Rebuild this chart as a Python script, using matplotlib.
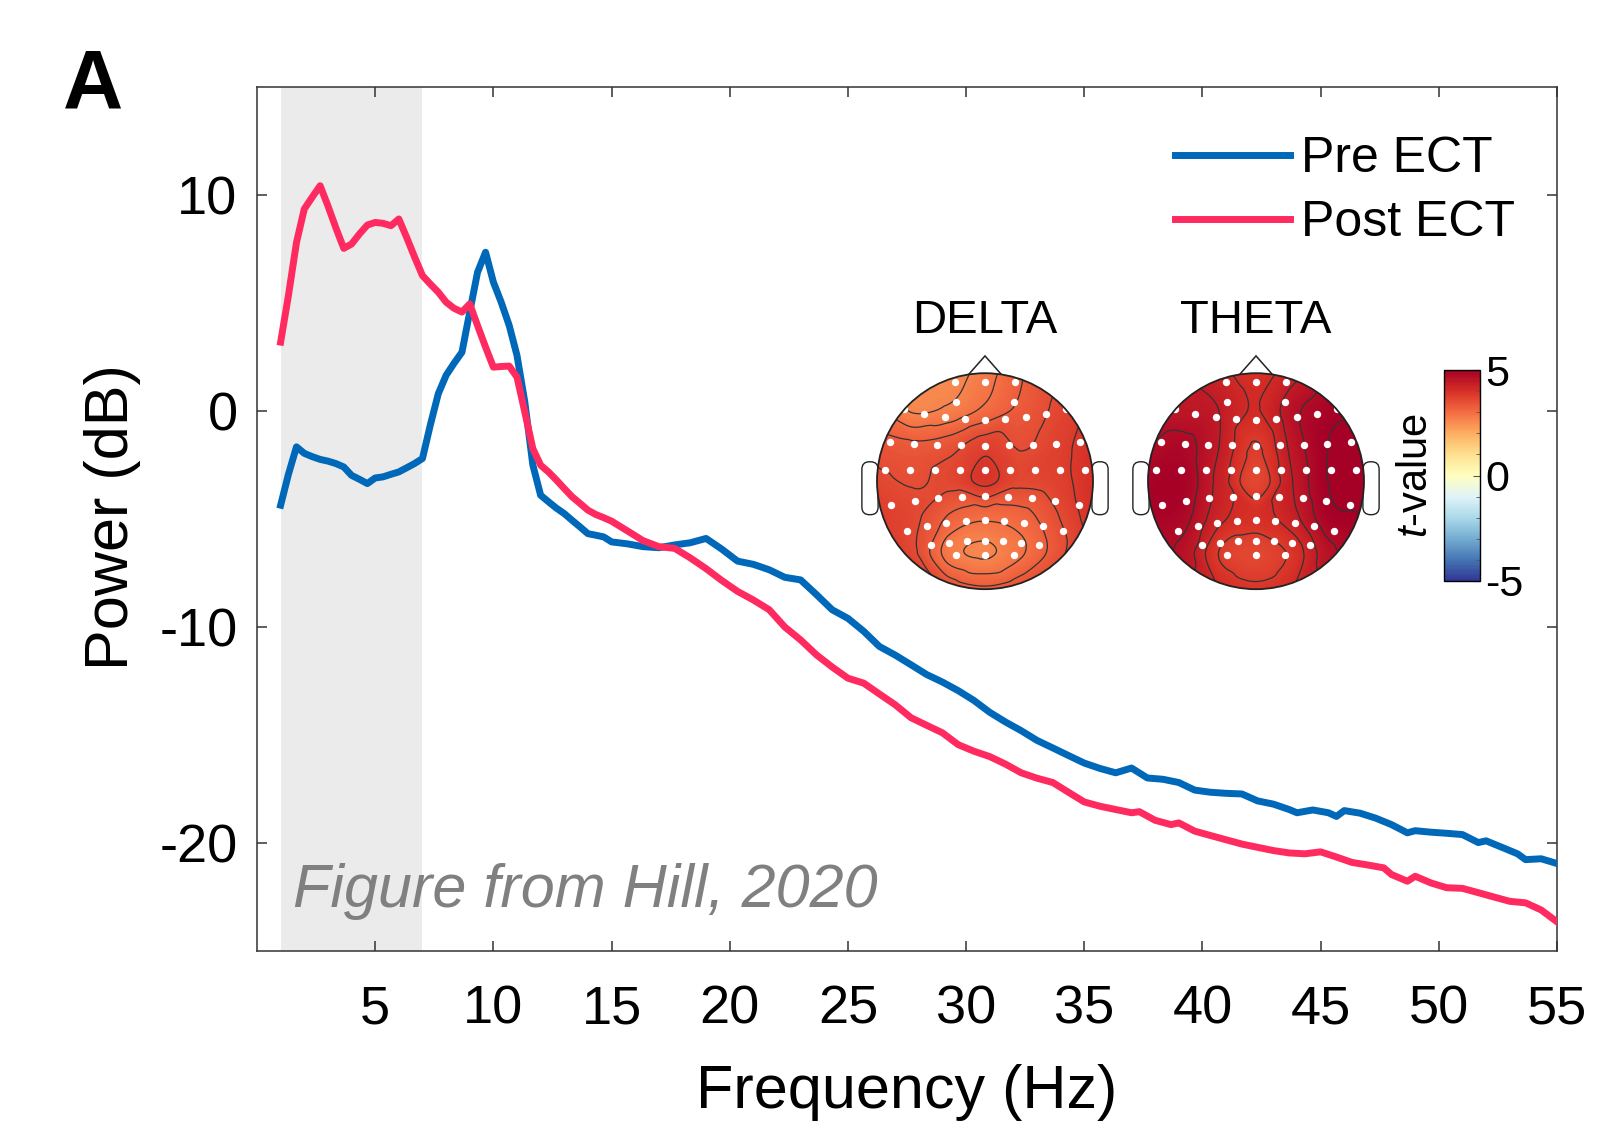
import numpy as np
import matplotlib.pyplot as plt
import matplotlib.tri as mtri
from matplotlib.patches import Circle, Polygon, FancyBboxPatch
from matplotlib.cm import ScalarMappable
from matplotlib.colors import Normalize
from matplotlib.ticker import MultipleLocator

plt.rcParams['font.family'] = ['Liberation Sans', 'DejaVu Sans']
plt.rcParams['axes.unicode_minus'] = False
plt.rcParams['mathtext.fontset'] = 'custom'
plt.rcParams['mathtext.it'] = 'Liberation Sans:italic'
plt.rcParams['mathtext.rm'] = 'Liberation Sans'

# power spectra (dB)
pre_freq = [1.0, 1.33, 1.67, 2.0, 2.33, 2.67, 3.0, 3.33, 3.67, 4.0, 4.33, 4.67, 5.0, 5.33,
            5.67, 6.0, 6.33, 6.67, 7.0, 7.33, 7.67, 8.0, 8.33, 8.67, 9.0, 9.33, 9.67, 10.0,
            10.33, 10.67, 11.0, 11.33, 11.67, 12.0, 12.33, 12.67, 13.0, 13.33, 13.67, 14.0,
            14.33, 14.67, 15.0, 15.67, 16.33, 17.0, 17.67, 18.33, 19.0, 19.67, 20.33, 21.0,
            21.67, 22.33, 23.0, 23.67, 24.33, 25.0, 25.67, 26.33, 27.0, 27.67, 28.33, 29.0,
            29.67, 30.33, 31.0, 31.67, 32.33, 33.0, 33.67, 34.33, 35.0, 35.67, 36.33, 37.0,
            37.67, 38.33, 39.0, 39.67, 40.33, 41.0, 41.67, 42.33, 43.0, 43.67, 44.0, 44.67,
            45.33, 45.67, 46.0, 46.67, 47.33, 48.0, 48.67, 49.0, 49.67, 50.33, 51.0, 51.67,
            52.0, 52.67, 53.33, 53.67, 54.33, 55.0]
pre_db = [-4.36, -2.93, -1.66, -1.96, -2.11, -2.24, -2.32, -2.43, -2.59, -2.98, -3.16, -3.36,
          -3.1, -3.05, -2.93, -2.82, -2.63, -2.43, -2.2, -0.66, 0.8, 1.65, 2.2, 2.72, 4.58,
          6.42, 7.35, 5.97, 5.04, 3.96, 2.57, 0.42, -2.5, -3.9, -4.2, -4.5, -4.75, -5.06,
          -5.37, -5.68, -5.75, -5.83, -6.06, -6.15, -6.28, -6.33, -6.2, -6.1, -5.9, -6.4,
          -6.95, -7.1, -7.35, -7.7, -7.82, -8.5, -9.2, -9.6, -10.2, -10.9, -11.3, -11.75,
          -12.2, -12.55, -12.95, -13.4, -13.95, -14.4, -14.8, -15.25, -15.6, -15.95, -16.3,
          -16.55, -16.75, -16.53, -16.99, -17.05, -17.2, -17.55, -17.65, -17.7, -17.73,
          -18.05, -18.2, -18.45, -18.6, -18.47, -18.6, -18.77, -18.5, -18.62, -18.85,
          -19.15, -19.53, -19.43, -19.5, -19.55, -19.61, -19.98, -19.9, -20.2, -20.5,
          -20.77, -20.73, -20.95]

post_freq = [1.0, 1.33, 1.67, 2.0, 2.33, 2.67, 3.0, 3.33, 3.67, 4.0, 4.33, 4.67, 5.0, 5.33,
             5.67, 6.0, 6.33, 6.67, 7.0, 7.33, 7.67, 8.0, 8.33, 8.67, 9.0, 9.33, 9.67, 10.0,
             10.33, 10.67, 11.0, 11.33, 11.67, 12.0, 12.33, 12.67, 13.0, 13.33, 13.67, 14.0,
             14.33, 14.67, 15.0, 15.67, 16.33, 17.0, 17.67, 18.33, 19.0, 19.67, 20.33, 21.0,
             21.67, 22.33, 23.0, 23.67, 24.33, 25.0, 25.67, 26.33, 27.0, 27.67, 28.33, 29.0,
             29.67, 30.33, 31.0, 31.67, 32.33, 33.0, 33.67, 34.33, 35.0, 35.67, 36.33, 37.0,
             37.33, 38.0, 38.67, 39.0, 39.67, 40.33, 41.0, 41.67, 42.33, 43.0, 43.67, 44.33,
             45.0, 45.67, 46.33, 47.0, 47.67, 48.0, 48.67, 49.0, 49.67, 50.33, 51.0, 51.67,
             52.33, 53.0, 53.67, 54.33, 55.0]
post_db = [3.19, 5.35, 7.8, 9.35, 9.89, 10.43, 9.5, 8.5, 7.53, 7.73, 8.19, 8.61, 8.73, 8.69,
           8.58, 8.89, 8.04, 7.12, 6.27, 5.88, 5.5, 5.04, 4.76, 4.58, 4.96, 3.96, 2.96, 2.03,
           2.06, 2.08, 1.57, -0.05, -1.74, -2.51, -2.82, -3.2, -3.59, -3.97, -4.28, -4.59,
           -4.79, -4.94, -5.1, -5.55, -6.0, -6.28, -6.36, -6.8, -7.3, -7.85, -8.35, -8.75,
           -9.2, -10.0, -10.6, -11.29, -11.85, -12.37, -12.6, -13.1, -13.6, -14.2, -14.55,
           -14.9, -15.45, -15.75, -16.0, -16.35, -16.75, -17.0, -17.2, -17.65, -18.1, -18.3,
           -18.45, -18.6, -18.55, -18.95, -19.15, -19.07, -19.45, -19.65, -19.85, -20.05,
           -20.2, -20.35, -20.46, -20.5, -20.41, -20.65, -20.9, -21.02, -21.15, -21.46,
           -21.77, -21.54, -21.85, -22.07, -22.1, -22.3, -22.5, -22.7, -22.77, -23.1, -23.65]

series_labels = ['Pre ECT', 'Post ECT']
band_hz = (1, 7)
x_ticks = [5, 10, 15, 20, 25, 30, 35, 40, 45, 50, 55]
y_ticks = [-20, -10, 0, 10]

# t-value maps on a coarse scalp grid (front row first, left to right)
delta_t = np.array([
    [3.0, 2.6, 2.5, 2.8, 3.2, 3.5, 3.8],
    [3.0, 2.6, 2.7, 3.0, 3.3, 3.6, 3.9],
    [3.4, 3.3, 3.4, 3.7, 3.5, 3.7, 4.0],
    [3.6, 3.5, 3.6, 3.9, 3.6, 3.7, 4.0],
    [3.8, 3.6, 3.2, 3.0, 3.1, 3.5, 4.0],
    [4.0, 3.6, 2.8, 2.6, 2.9, 3.4, 4.0],
    [4.2, 4.0, 3.5, 3.3, 3.5, 3.9, 4.2],
])
theta_t = np.array([
    [4.6, 4.4, 4.2, 4.0, 4.3, 4.7, 4.9],
    [4.5, 4.5, 4.4, 4.1, 4.6, 4.9, 5.0],
    [4.7, 4.8, 4.4, 3.8, 4.5, 5.0, 5.1],
    [4.9, 4.9, 4.3, 3.6, 4.4, 5.0, 5.1],
    [4.9, 4.8, 4.2, 4.0, 4.3, 4.9, 5.0],
    [4.8, 4.6, 3.8, 3.6, 3.9, 4.6, 4.9],
    [4.8, 4.5, 4.1, 3.9, 4.1, 4.5, 4.8],
])
topo_titles = ['DELTA', 'THETA']

# electrode montage rows: count per row
row_n = [3, 2, 9, 9, 9, 9, 9, 7, 3]
row_y = [0.92, 0.73, 0.57, 0.33, 0.10, -0.14, -0.36, -0.55, -0.68]
row_half = [0.275, 0.27, 0.75, 0.88, 0.93, 0.87, 0.72, 0.5, 0.27]
row_bend = [0, 0, 0.1, 0.03, 0, -0.08, -0.1, -0.04, 0]

W, H = 1612, 1130
fig = plt.figure(figsize=(W / 100, H / 100), dpi=100)
ax = fig.add_axes([257 / W, 1 - 951 / H, 1300 / W, 864 / H])

blue = '#0068B8'
red = '#FF2A5F'
ax.axvspan(band_hz[0], band_hz[1], color='#EBEBEB', lw=0, zorder=0)
ax.plot(pre_freq, pre_db, color=blue, lw=5, label=series_labels[0], zorder=3)
ax.plot(post_freq, post_db, color=red, lw=5, label=series_labels[1], zorder=3)

ax.set_xlim(0, 55)
ax.set_ylim(-25, 15)
ax.set_xticks(x_ticks)
ax.set_yticks(y_ticks)
for s in ax.spines.values():
    s.set_linewidth(1.1)
    s.set_color('#333333')
ax.tick_params(direction='in', length=7, width=1.1, color='#333333',
               top=True, right=True, labelsize=39)
ax.tick_params(axis='x', pad=24)
ax.tick_params(axis='y', pad=14)
ax.set_xlabel('Frequency (Hz)', fontsize=44)
ax.set_ylabel('Power (dB)', fontsize=44)
ax.xaxis.set_label_coords(0.5, -0.131)
ax.yaxis.set_label_coords(-0.089, 0.502)

ax.legend(loc='upper right', bbox_to_anchor=(1515 / W, 1 - 136 / H),
          bbox_transform=fig.transFigure, frameon=False, fontsize=36,
          handlelength=2.3, handletextpad=0.22, labelspacing=0.36,
          borderpad=0, borderaxespad=0)

fig.text(93 / W, 1 - 87 / H, 'A', fontsize=60, fontweight='bold',
         ha='center', va='center')
fig.text(293 / W, 1 - 892 / H, 'Figure from Hill, 2020', fontsize=44,
         style='italic', color='#808080', ha='left', va='center')

cmap = plt.get_cmap('RdYlBu_r')


def draw_topo(tax, grid, title):
    ny, nx = grid.shape
    gx, gy = np.meshgrid(np.linspace(-1, 1, nx), np.linspace(1, -1, ny))
    tri = mtri.Triangulation(gx.ravel(), gy.ravel())
    interp = mtri.CubicTriInterpolator(tri, grid.ravel(), kind='geom')
    fx, fy = np.meshgrid(np.linspace(-1, 1, 301), np.linspace(-1, 1, 301))
    fz = np.asarray(interp(fx, fy))

    head = Circle((0, 0), 1, transform=tax.transData, facecolor='none',
                  edgecolor='#222222', lw=1.3, zorder=5)
    im = tax.imshow(fz, extent=[-1, 1, -1, 1], origin='lower', cmap=cmap,
                    vmin=-5, vmax=5, interpolation='bilinear', zorder=1)
    im.set_clip_path(head)
    cs = tax.contour(fx, fy, fz, levels=np.linspace(-5, 5, 35),
                     colors='#333333', linewidths=0.9, zorder=2)
    cs.set_clip_path(head)
    tax.add_patch(head)

    tax.add_patch(Polygon([(-0.15, 0.99), (0, 1.16), (0.15, 0.99)], closed=False,
                          fill=False, edgecolor='#222222', lw=1.1, zorder=5))
    for side in (-1, 1):
        x0 = -1.14 if side < 0 else 0.99
        tax.add_patch(FancyBboxPatch((x0, -0.31), 0.15, 0.49,
                                     boxstyle='round,pad=0,rounding_size=0.07',
                                     fc='white', ec='#222222', lw=1.0, zorder=0))

    ex, ey = [], []
    for n, y, hw, bend in zip(row_n, row_y, row_half, row_bend):
        xs = np.linspace(-hw, hw, n)
        ex.extend(xs)
        ey.extend(y + bend * (xs / hw) ** 2)
    tax.scatter(ex, ey, s=28, color='white', lw=0, zorder=4)

    tax.text(0, 1.48, title, fontsize=34, ha='center', va='center')
    tax.set_xlim(-1.25, 1.25)
    tax.set_ylim(-1.1, 1.3)
    tax.axis('off')


for cx, grid, title in zip([985, 1256], [delta_t, theta_t], topo_titles):
    tax = fig.add_axes([(cx - 135) / W, 1 - 600 / H, 270 / W, 259.2 / H])
    draw_topo(tax, grid, title)

cax = fig.add_axes([1444 / W, 1 - 581 / H, 36 / W, 211 / H])
cb = fig.colorbar(ScalarMappable(norm=Normalize(-5, 5), cmap=cmap), cax=cax,
                  ticks=[-5, 0, 5])
cb.outline.set_linewidth(1.0)
cax.yaxis.set_minor_locator(MultipleLocator(1))
cax.tick_params(which='both', direction='in', color='#555555', labelsize=31, pad=4)
cax.tick_params(which='major', length=5)
cax.tick_params(which='minor', length=3)
cb.set_label('$t$-value', fontsize=30, labelpad=6)
cax.yaxis.set_label_position('left')

fig.savefig('out.png', dpi=100)
